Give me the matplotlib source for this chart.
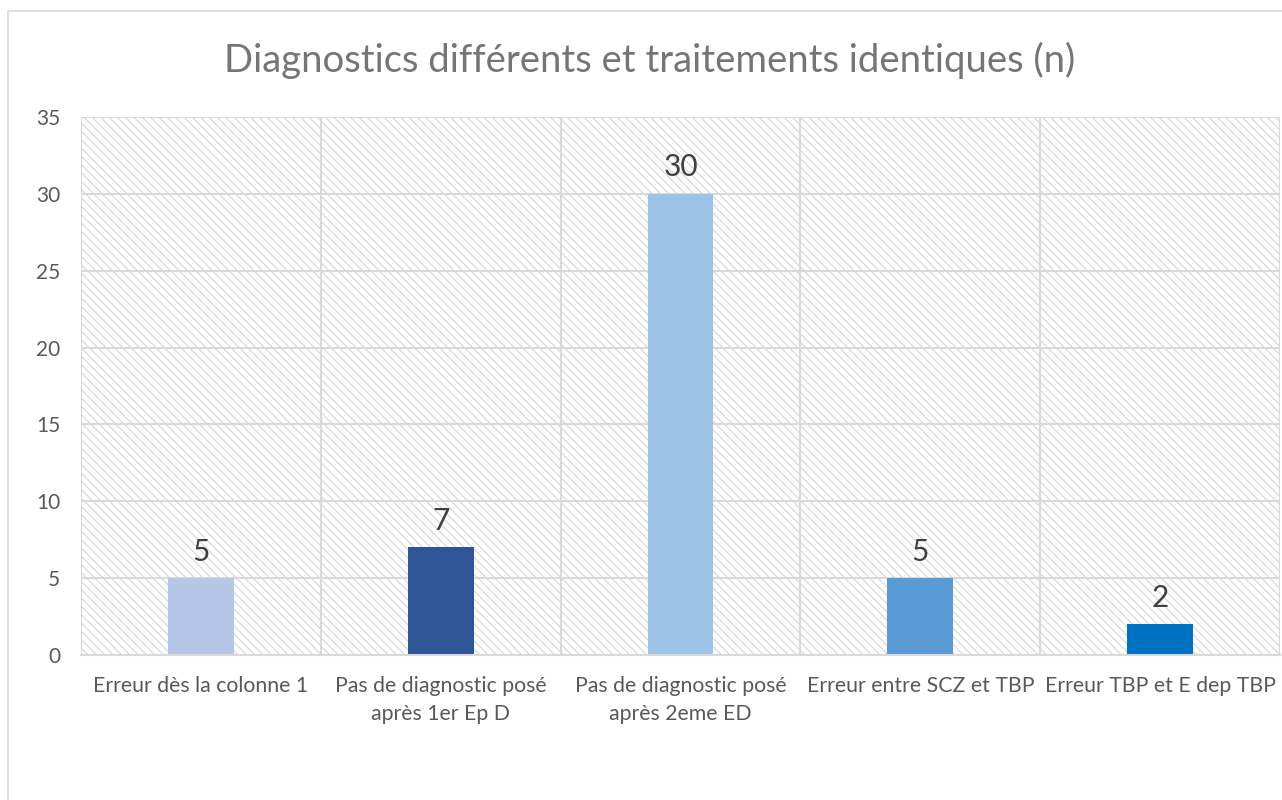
import matplotlib
matplotlib.use("Agg")
import matplotlib.pyplot as plt
from matplotlib.patches import Rectangle

plt.rcParams["font.family"] = ["Lato", "DejaVu Sans"]
plt.rcParams["hatch.linewidth"] = 0.9

categories = [
    "Erreur dès la colonne 1",
    "Pas de diagnostic posé\naprès 1er Ep D",
    "Pas de diagnostic posé\naprès 2eme ED",
    "Erreur entre SCZ et TBP",
    "Erreur TBP et E dep TBP",
]
values = [5, 7, 30, 5, 2]
colors = ["#B4C7E7", "#2F5597", "#9DC3E6", "#5B9BD5", "#0070C0"]
yticks = [0, 5, 10, 15, 20, 25, 30, 35]
title = "Diagnostics différents et traitements identiques (n)"

GRID = "#d9d9d9"
TXT = "#595959"

fig = plt.figure(figsize=(12.82, 8.0), dpi=100)
fig.patches.append(Rectangle((8 / 1282, -0.1), 1.2, 0.986 + 0.1, transform=fig.transFigure,
                             fill=False, edgecolor=GRID, linewidth=1.2))
ax = fig.add_axes([81 / 1282, 1 - 655 / 800, (1280 - 81) / 1282, (655 - 117) / 800])

# hatched plot-area background
ax.add_patch(Rectangle((0, 0), 1, 1, transform=ax.transAxes, facecolor="white",
                       edgecolor=GRID, linewidth=0, hatch="\\" * 4, zorder=0.1))

x = list(range(len(categories)))
bars = ax.bar(x, values, width=0.275, color=colors, zorder=2)
for b, v in zip(bars, values):
    ax.annotate(str(v), (b.get_x() + b.get_width() / 2, v), textcoords="offset points",
                xytext=(0, 9), ha="center", va="bottom", fontsize=21.5, color="#404040")

ax.set_xlim(-0.5, len(categories) - 0.5)
ax.set_ylim(0, 35)
ax.set_yticks(yticks)
ax.set_xticks(x)
ax.set_xticklabels(categories, fontsize=15.3, color=TXT, linespacing=1.5)
ax.set_xticks([i - 0.5 for i in range(len(categories) + 1)], minor=True)
ax.tick_params(axis="y", length=0, pad=15, labelsize=15, labelcolor=TXT)
ax.tick_params(axis="x", which="both", length=0, pad=15)
ax.grid(axis="y", color=GRID, linewidth=1.5, zorder=1)
ax.grid(axis="x", which="minor", color=GRID, linewidth=1.5, zorder=1)
ax.grid(axis="x", which="major", visible=False)
for side in ("top", "right", "left"):
    ax.spines[side].set_visible(False)
ax.spines["bottom"].set_color(GRID)
ax.spines["bottom"].set_linewidth(1.5)
ax.set_axisbelow(True)

fig.text(650 / 1282, 1 - 60 / 800, title, ha="center", va="center", fontsize=27.5, color="#757575")

fig.savefig("out.png", dpi=100)
